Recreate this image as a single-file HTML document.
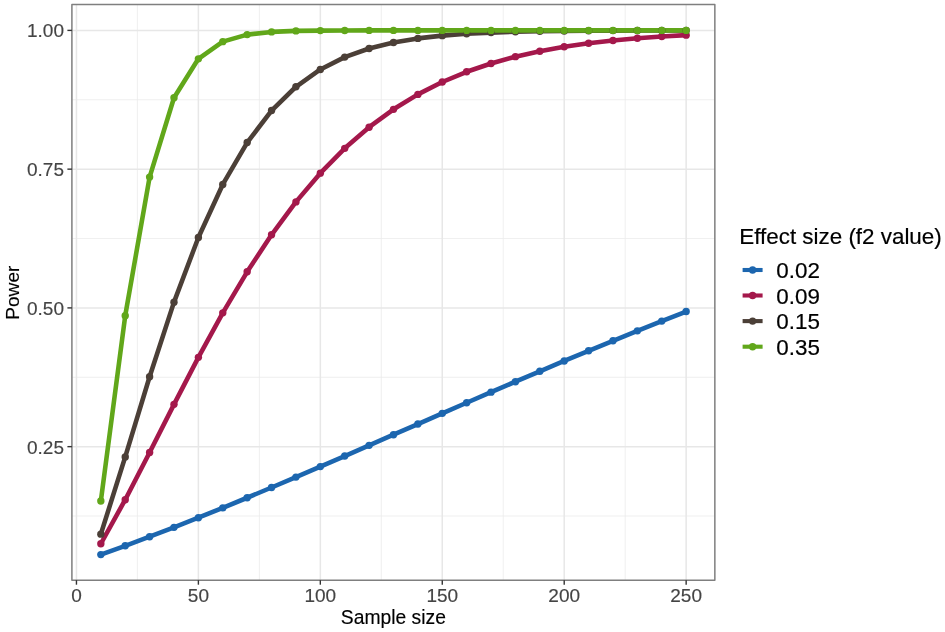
<!DOCTYPE html>
<html lang="en">
<head>
<meta charset="utf-8">
<title>Power by sample size</title>
<style>
html,body{margin:0;padding:0;background:#ffffff;}
body{width:945px;height:632px;overflow:hidden;font-family:"Liberation Sans",sans-serif;}
svg text{white-space:pre;}
</style>
</head>
<body>
<svg width="945" height="632" viewBox="0 0 945 632" style="display:block">
<rect x="0" y="0" width="945" height="632" fill="#ffffff"/>
<g stroke="#ebebeb" stroke-width="0.8" fill="none">
<line x1="137.42" y1="4.55" x2="137.42" y2="580.2"/>
<line x1="259.36" y1="4.55" x2="259.36" y2="580.2"/>
<line x1="381.30" y1="4.55" x2="381.30" y2="580.2"/>
<line x1="503.24" y1="4.55" x2="503.24" y2="580.2"/>
<line x1="625.18" y1="4.55" x2="625.18" y2="580.2"/>
<line x1="71.9" y1="516.02" x2="714.85" y2="516.02"/>
<line x1="71.9" y1="377.27" x2="714.85" y2="377.27"/>
<line x1="71.9" y1="238.53" x2="714.85" y2="238.53"/>
<line x1="71.9" y1="99.78" x2="714.85" y2="99.78"/>
</g>
<g stroke="#e7e7e7" stroke-width="1.5" fill="none">
<line x1="76.45" y1="4.55" x2="76.45" y2="580.2"/>
<line x1="198.39" y1="4.55" x2="198.39" y2="580.2"/>
<line x1="320.33" y1="4.55" x2="320.33" y2="580.2"/>
<line x1="442.27" y1="4.55" x2="442.27" y2="580.2"/>
<line x1="564.21" y1="4.55" x2="564.21" y2="580.2"/>
<line x1="686.15" y1="4.55" x2="686.15" y2="580.2"/>
<line x1="71.9" y1="446.65" x2="714.85" y2="446.65"/>
<line x1="71.9" y1="307.90" x2="714.85" y2="307.90"/>
<line x1="71.9" y1="169.15" x2="714.85" y2="169.15"/>
<line x1="71.9" y1="30.40" x2="714.85" y2="30.40"/>
</g>
<polyline points="100.84,554.62 125.23,545.79 149.61,536.71 174.00,527.34 198.39,517.71 222.78,507.83 247.17,497.75 271.55,487.50 295.94,477.11 320.33,466.60 344.72,456.02 369.11,445.37 393.49,434.70 417.88,424.02 442.27,413.36 466.66,402.74 491.05,392.17 515.43,381.68 539.82,371.27 564.21,360.98 588.60,350.80 612.99,340.76 637.37,330.86 661.76,321.12 686.15,311.54" fill="none" stroke="#1c66af" stroke-width="4.6" stroke-linejoin="round" stroke-linecap="butt"/>
<polyline points="100.84,543.75 125.23,499.73 149.61,452.46 174.00,404.34 198.39,357.33 222.78,312.84 247.17,271.82 271.55,234.76 295.94,201.88 320.33,173.14 344.72,148.34 369.11,127.19 393.49,109.33 417.88,94.39 442.27,82.00 466.66,71.79 491.05,63.45 515.43,56.67 539.82,51.19 564.21,46.79 588.60,43.27 612.99,40.47 637.37,38.26 661.76,36.51 686.15,35.13" fill="none" stroke="#a4184b" stroke-width="4.6" stroke-linejoin="round" stroke-linecap="butt"/>
<polyline points="100.84,534.17 125.23,456.88 149.61,376.75 174.00,302.15 198.39,237.54 222.78,184.45 247.17,142.57 271.55,110.57 295.94,86.77 320.33,69.46 344.72,57.12 369.11,48.46 393.49,42.48 417.88,38.40 442.27,35.65 466.66,33.82 491.05,32.61 515.43,31.81 539.82,31.30 564.21,30.97 588.60,30.76 612.99,30.62 637.37,30.54 661.76,30.49 686.15,30.45" fill="none" stroke="#4b3f37" stroke-width="4.6" stroke-linejoin="round" stroke-linecap="butt"/>
<polyline points="100.84,501.00 125.23,315.72 149.61,177.12 174.00,97.77 198.39,58.84 222.78,41.65 247.17,34.62 271.55,31.92 295.94,30.92 320.33,30.58 344.72,30.46 369.11,30.42 393.49,30.41 417.88,30.40 442.27,30.40 466.66,30.40 491.05,30.40 515.43,30.40 539.82,30.40 564.21,30.40 588.60,30.40 612.99,30.40 637.37,30.40 661.76,30.40 686.15,30.40" fill="none" stroke="#61a71a" stroke-width="4.6" stroke-linejoin="round" stroke-linecap="butt"/>
<g fill="#1c66af">
<circle cx="100.84" cy="554.62" r="3.7"/>
<circle cx="125.23" cy="545.79" r="3.7"/>
<circle cx="149.61" cy="536.71" r="3.7"/>
<circle cx="174.00" cy="527.34" r="3.7"/>
<circle cx="198.39" cy="517.71" r="3.7"/>
<circle cx="222.78" cy="507.83" r="3.7"/>
<circle cx="247.17" cy="497.75" r="3.7"/>
<circle cx="271.55" cy="487.50" r="3.7"/>
<circle cx="295.94" cy="477.11" r="3.7"/>
<circle cx="320.33" cy="466.60" r="3.7"/>
<circle cx="344.72" cy="456.02" r="3.7"/>
<circle cx="369.11" cy="445.37" r="3.7"/>
<circle cx="393.49" cy="434.70" r="3.7"/>
<circle cx="417.88" cy="424.02" r="3.7"/>
<circle cx="442.27" cy="413.36" r="3.7"/>
<circle cx="466.66" cy="402.74" r="3.7"/>
<circle cx="491.05" cy="392.17" r="3.7"/>
<circle cx="515.43" cy="381.68" r="3.7"/>
<circle cx="539.82" cy="371.27" r="3.7"/>
<circle cx="564.21" cy="360.98" r="3.7"/>
<circle cx="588.60" cy="350.80" r="3.7"/>
<circle cx="612.99" cy="340.76" r="3.7"/>
<circle cx="637.37" cy="330.86" r="3.7"/>
<circle cx="661.76" cy="321.12" r="3.7"/>
<circle cx="686.15" cy="311.54" r="3.7"/>
</g>
<g fill="#a4184b">
<circle cx="100.84" cy="543.75" r="3.7"/>
<circle cx="125.23" cy="499.73" r="3.7"/>
<circle cx="149.61" cy="452.46" r="3.7"/>
<circle cx="174.00" cy="404.34" r="3.7"/>
<circle cx="198.39" cy="357.33" r="3.7"/>
<circle cx="222.78" cy="312.84" r="3.7"/>
<circle cx="247.17" cy="271.82" r="3.7"/>
<circle cx="271.55" cy="234.76" r="3.7"/>
<circle cx="295.94" cy="201.88" r="3.7"/>
<circle cx="320.33" cy="173.14" r="3.7"/>
<circle cx="344.72" cy="148.34" r="3.7"/>
<circle cx="369.11" cy="127.19" r="3.7"/>
<circle cx="393.49" cy="109.33" r="3.7"/>
<circle cx="417.88" cy="94.39" r="3.7"/>
<circle cx="442.27" cy="82.00" r="3.7"/>
<circle cx="466.66" cy="71.79" r="3.7"/>
<circle cx="491.05" cy="63.45" r="3.7"/>
<circle cx="515.43" cy="56.67" r="3.7"/>
<circle cx="539.82" cy="51.19" r="3.7"/>
<circle cx="564.21" cy="46.79" r="3.7"/>
<circle cx="588.60" cy="43.27" r="3.7"/>
<circle cx="612.99" cy="40.47" r="3.7"/>
<circle cx="637.37" cy="38.26" r="3.7"/>
<circle cx="661.76" cy="36.51" r="3.7"/>
<circle cx="686.15" cy="35.13" r="3.7"/>
</g>
<g fill="#4b3f37">
<circle cx="100.84" cy="534.17" r="3.7"/>
<circle cx="125.23" cy="456.88" r="3.7"/>
<circle cx="149.61" cy="376.75" r="3.7"/>
<circle cx="174.00" cy="302.15" r="3.7"/>
<circle cx="198.39" cy="237.54" r="3.7"/>
<circle cx="222.78" cy="184.45" r="3.7"/>
<circle cx="247.17" cy="142.57" r="3.7"/>
<circle cx="271.55" cy="110.57" r="3.7"/>
<circle cx="295.94" cy="86.77" r="3.7"/>
<circle cx="320.33" cy="69.46" r="3.7"/>
<circle cx="344.72" cy="57.12" r="3.7"/>
<circle cx="369.11" cy="48.46" r="3.7"/>
<circle cx="393.49" cy="42.48" r="3.7"/>
<circle cx="417.88" cy="38.40" r="3.7"/>
<circle cx="442.27" cy="35.65" r="3.7"/>
<circle cx="466.66" cy="33.82" r="3.7"/>
<circle cx="491.05" cy="32.61" r="3.7"/>
<circle cx="515.43" cy="31.81" r="3.7"/>
<circle cx="539.82" cy="31.30" r="3.7"/>
<circle cx="564.21" cy="30.97" r="3.7"/>
<circle cx="588.60" cy="30.76" r="3.7"/>
<circle cx="612.99" cy="30.62" r="3.7"/>
<circle cx="637.37" cy="30.54" r="3.7"/>
<circle cx="661.76" cy="30.49" r="3.7"/>
<circle cx="686.15" cy="30.45" r="3.7"/>
</g>
<g fill="#61a71a">
<circle cx="100.84" cy="501.00" r="3.7"/>
<circle cx="125.23" cy="315.72" r="3.7"/>
<circle cx="149.61" cy="177.12" r="3.7"/>
<circle cx="174.00" cy="97.77" r="3.7"/>
<circle cx="198.39" cy="58.84" r="3.7"/>
<circle cx="222.78" cy="41.65" r="3.7"/>
<circle cx="247.17" cy="34.62" r="3.7"/>
<circle cx="271.55" cy="31.92" r="3.7"/>
<circle cx="295.94" cy="30.92" r="3.7"/>
<circle cx="320.33" cy="30.58" r="3.7"/>
<circle cx="344.72" cy="30.46" r="3.7"/>
<circle cx="369.11" cy="30.42" r="3.7"/>
<circle cx="393.49" cy="30.41" r="3.7"/>
<circle cx="417.88" cy="30.40" r="3.7"/>
<circle cx="442.27" cy="30.40" r="3.7"/>
<circle cx="466.66" cy="30.40" r="3.7"/>
<circle cx="491.05" cy="30.40" r="3.7"/>
<circle cx="515.43" cy="30.40" r="3.7"/>
<circle cx="539.82" cy="30.40" r="3.7"/>
<circle cx="564.21" cy="30.40" r="3.7"/>
<circle cx="588.60" cy="30.40" r="3.7"/>
<circle cx="612.99" cy="30.40" r="3.7"/>
<circle cx="637.37" cy="30.40" r="3.7"/>
<circle cx="661.76" cy="30.40" r="3.7"/>
<circle cx="686.15" cy="30.40" r="3.7"/>
</g>
<rect x="71.9" y="4.55" width="642.95" height="575.65" fill="none" stroke="#7f7f7f" stroke-width="1.5" stroke-linejoin="round"/>
<g stroke="#333333" stroke-width="1.4">
<line x1="76.45" y1="580.2" x2="76.45" y2="584.7"/>
<line x1="198.39" y1="580.2" x2="198.39" y2="584.7"/>
<line x1="320.33" y1="580.2" x2="320.33" y2="584.7"/>
<line x1="442.27" y1="580.2" x2="442.27" y2="584.7"/>
<line x1="564.21" y1="580.2" x2="564.21" y2="584.7"/>
<line x1="686.15" y1="580.2" x2="686.15" y2="584.7"/>
<line x1="67.4" y1="446.65" x2="71.9" y2="446.65"/>
<line x1="67.4" y1="307.90" x2="71.9" y2="307.90"/>
<line x1="67.4" y1="169.15" x2="71.9" y2="169.15"/>
<line x1="67.4" y1="30.40" x2="71.9" y2="30.40"/>
</g>
<g font-family="'Liberation Sans', sans-serif" font-size="19.0" fill="#444444" stroke="#444444" stroke-width="0.15">
<text x="76.45" y="602.1" text-anchor="middle">0</text>
<text x="198.39" y="602.1" text-anchor="middle">50</text>
<text x="320.33" y="602.1" text-anchor="middle">100</text>
<text x="442.27" y="602.1" text-anchor="middle">150</text>
<text x="564.21" y="602.1" text-anchor="middle">200</text>
<text x="686.15" y="602.1" text-anchor="middle">250</text>
<text x="64" y="453.50" text-anchor="end">0.25</text>
<text x="64" y="314.75" text-anchor="end">0.50</text>
<text x="64" y="176.00" text-anchor="end">0.75</text>
<text x="64" y="37.25" text-anchor="end">1.00</text>
</g>
<g font-family="'Liberation Sans', sans-serif" font-size="19.3" fill="#000000" stroke="#000000" stroke-width="0.15">
<text x="393.38" y="624.2" text-anchor="middle">Sample size</text>
<text transform="translate(18.7 292.68) rotate(-90)" text-anchor="middle" font-size="19.1">Power</text>
</g>
<g font-family="'Liberation Sans', sans-serif" fill="#000000" stroke="#000000" stroke-width="0.2">
<text x="739.3" y="244.0" font-size="22.4">Effect size (f2 value)</text>
<line x1="742.6" y1="270.0" x2="762.6" y2="270.0" stroke="#1c66af" stroke-width="4.1"/>
<circle cx="752.6" cy="270.0" r="3.7" fill="#1c66af" stroke="none"/>
<text x="776.3" y="278.10" font-size="22.4">0.02</text>
<line x1="742.6" y1="295.5" x2="762.6" y2="295.5" stroke="#a4184b" stroke-width="4.1"/>
<circle cx="752.6" cy="295.5" r="3.7" fill="#a4184b" stroke="none"/>
<text x="776.3" y="303.60" font-size="22.4">0.09</text>
<line x1="742.6" y1="321.1" x2="762.6" y2="321.1" stroke="#4b3f37" stroke-width="4.1"/>
<circle cx="752.6" cy="321.1" r="3.7" fill="#4b3f37" stroke="none"/>
<text x="776.3" y="329.20" font-size="22.4">0.15</text>
<line x1="742.6" y1="346.7" x2="762.6" y2="346.7" stroke="#61a71a" stroke-width="4.1"/>
<circle cx="752.6" cy="346.7" r="3.7" fill="#61a71a" stroke="none"/>
<text x="776.3" y="354.80" font-size="22.4">0.35</text>
</g>
</svg>
</body>
</html>
